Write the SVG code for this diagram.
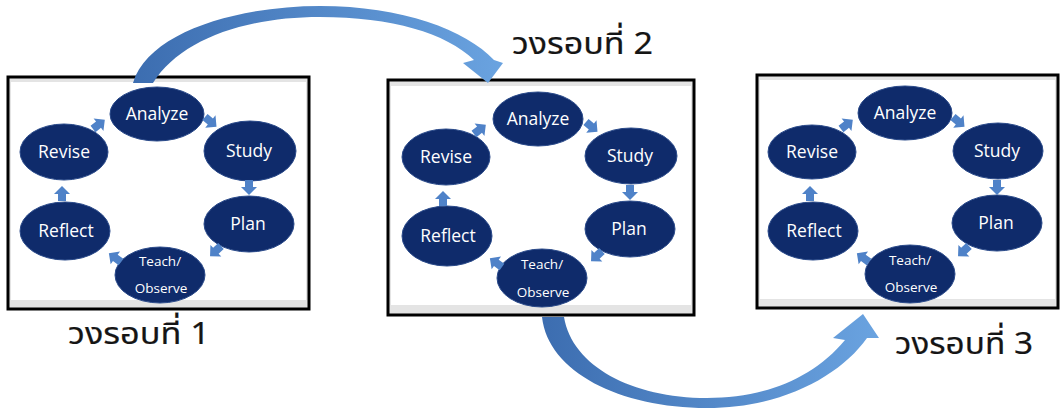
<svg xmlns="http://www.w3.org/2000/svg" xmlns:xlink="http://www.w3.org/1999/xlink" width="1061" height="416" viewBox="0 0 1061 416">
<style>
.frame{fill:#e4e4e4;stroke:#000;stroke-width:3}
.inner{fill:#fff}
.node{fill:#0f2b6b;stroke:#2a4a8a;stroke-width:1}
.lbl{fill:#fff;font-family:"Open Sans","Noto Sans",sans-serif;font-size:17.5px;text-anchor:middle}
.sm{font-size:13.5px}
.sarr{fill:#4f82c8}
.big{fill:url(#g)}
.title{fill:#151515;stroke:#151515;stroke-width:0.2;font-family:"Noto Sans","Noto Sans Thai","DejaVu Sans",sans-serif;font-size:31px}
</style>
<defs>
<linearGradient id="g" x1="0" y1="0" x2="1" y2="0">
<stop offset="0" stop-color="#3c6db0"/>
<stop offset="1" stop-color="#6aa3e0"/>
</linearGradient>
<path id="a" d="M0,-4 L7,-4 L7,-8 L15,0 L7,8 L7,4 L0,4 Z"/>
</defs>
<rect width="1061" height="416" fill="#fff"/>

<g id="panel1">
<rect class="frame" x="8" y="77" width="301" height="232"/>
<rect class="inner" x="11" y="82" width="295" height="218"/>
</g>
<g id="panel2">
<rect class="frame" x="388" y="80" width="306" height="235"/>
<rect class="inner" x="391" y="86" width="300" height="219"/>
</g>
<g id="panel3">
<rect class="frame" x="757" y="75" width="301" height="233"/>
<rect class="inner" x="760" y="80" width="295" height="219"/>
</g>

<g id="nodes1">
<g id="p1-analyze"><ellipse class="node" cx="157" cy="114" rx="47" ry="27"/><text class="lbl" x="157" y="120">Analyze</text></g>
<g id="p1-study"><ellipse class="node" cx="250" cy="151" rx="46" ry="30"/><text class="lbl" x="249" y="157">Study</text></g>
<g id="p1-plan"><ellipse class="node" cx="249" cy="224" rx="45" ry="28"/><text class="lbl" x="248" y="230">Plan</text></g>
<g id="p1-teach"><ellipse class="node" cx="160" cy="275" rx="45" ry="28"/><text class="lbl sm" x="160" y="266">Teach/</text><text class="lbl sm" x="161" y="293">Observe</text></g>
<g id="p1-reflect"><ellipse class="node" cx="65" cy="231" rx="45" ry="29"/><text class="lbl" x="66" y="237">Reflect</text></g>
<g id="p1-revise"><ellipse class="node" cx="64" cy="152" rx="44" ry="28"/><text class="lbl" x="64" y="158">Revise</text></g>
</g>

<g id="nodes2" transform="translate(381,5)">
<g id="p2-analyze"><ellipse class="node" cx="157" cy="114" rx="45" ry="27"/><text class="lbl" x="157" y="120">Analyze</text></g>
<g id="p2-study"><ellipse class="node" cx="250" cy="151" rx="46" ry="28"/><text class="lbl" x="249" y="157">Study</text></g>
<g id="p2-plan"><ellipse class="node" cx="249" cy="224" rx="45" ry="28"/><text class="lbl" x="248" y="230">Plan</text></g>
<g id="p2-teach"><ellipse class="node" cx="161" cy="273" rx="45" ry="29"/><text class="lbl sm" x="161" y="264">Teach/</text><text class="lbl sm" x="162" y="292">Observe</text></g>
<g id="p2-reflect"><ellipse class="node" cx="66" cy="231" rx="45" ry="30"/><text class="lbl" x="67" y="237">Reflect</text></g>
<g id="p2-revise"><ellipse class="node" cx="65" cy="152" rx="44" ry="28"/><text class="lbl" x="65" y="158">Revise</text></g>
</g>

<g id="nodes3" transform="translate(748,0)">
<g id="p3-analyze"><ellipse class="node" cx="157" cy="113" rx="47" ry="27"/><text class="lbl" x="157" y="119">Analyze</text></g>
<g id="p3-study"><ellipse class="node" cx="250" cy="151" rx="45" ry="28"/><text class="lbl" x="249" y="157">Study</text></g>
<g id="p3-plan"><ellipse class="node" cx="249" cy="223" rx="45" ry="28"/><text class="lbl" x="248" y="229">Plan</text></g>
<g id="p3-teach"><ellipse class="node" cx="162" cy="274" rx="45" ry="29"/><text class="lbl sm" x="162" y="265">Teach/</text><text class="lbl sm" x="163" y="292">Observe</text></g>
<g id="p3-reflect"><ellipse class="node" cx="65" cy="231" rx="45" ry="29"/><text class="lbl" x="66" y="237">Reflect</text></g>
<g id="p3-revise"><ellipse class="node" cx="64" cy="152" rx="44" ry="27"/><text class="lbl" x="64" y="158">Revise</text></g>
</g>

<g id="connectors">
<g id="c1">
<use class="sarr" xlink:href="#a" transform="translate(93,129) rotate(-38)"/>
<use class="sarr" xlink:href="#a" transform="translate(205,117) rotate(40)"/>
<use class="sarr" xlink:href="#a" transform="translate(249,180) rotate(90)"/>
<use class="sarr" xlink:href="#a" transform="translate(221,246) rotate(137)"/>
<use class="sarr" xlink:href="#a" transform="translate(121,262) rotate(-144)"/>
<use class="sarr" xlink:href="#a" transform="translate(62,201) rotate(-90)"/>
</g>
<g id="c2" transform="translate(381,5)">
<use class="sarr" xlink:href="#a" transform="translate(93,129) rotate(-38)"/>
<use class="sarr" xlink:href="#a" transform="translate(205,117) rotate(40)"/>
<use class="sarr" xlink:href="#a" transform="translate(249,180) rotate(90)"/>
<use class="sarr" xlink:href="#a" transform="translate(221,246) rotate(137)"/>
<use class="sarr" xlink:href="#a" transform="translate(121,262) rotate(-144)"/>
<use class="sarr" xlink:href="#a" transform="translate(62,201) rotate(-90)"/>
</g>
<g id="c3" transform="translate(748,0)">
<use class="sarr" xlink:href="#a" transform="translate(93,129) rotate(-38)"/>
<use class="sarr" xlink:href="#a" transform="translate(205,117) rotate(40)"/>
<use class="sarr" xlink:href="#a" transform="translate(249,180) rotate(90)"/>
<use class="sarr" xlink:href="#a" transform="translate(221,246) rotate(137)"/>
<use class="sarr" xlink:href="#a" transform="translate(121,262) rotate(-144)"/>
<use class="sarr" xlink:href="#a" transform="translate(62,201) rotate(-90)"/>
</g>
<path id="round1to2" class="big" d="M133 83 C148 32 238 6 320 6 C402 6 466 30 494 60 L503 63 L488 83 L463 63 L474 60 C446 33 392 17 320 17 C244 17 180 40 153 83 Z"/>
<path id="round2to3" class="big" d="M542 317 C548 372 620 408 707 408 C782 408 840 376 867 338 L879 338 L863 314 L833 338 L845 340 C812 380 762 398 707 398 C632 398 572 366 564 317 Z"/>
</g>

<g id="labels">
<text class="title" x="68" y="344" textLength="142" lengthAdjust="spacingAndGlyphs">วงรอบที่ 1</text>
<text class="title" x="512" y="54" textLength="141" lengthAdjust="spacingAndGlyphs">วงรอบที่ 2</text>
<text class="title" x="895" y="354" textLength="138" lengthAdjust="spacingAndGlyphs">วงรอบที่ 3</text>
</g>
</svg>
